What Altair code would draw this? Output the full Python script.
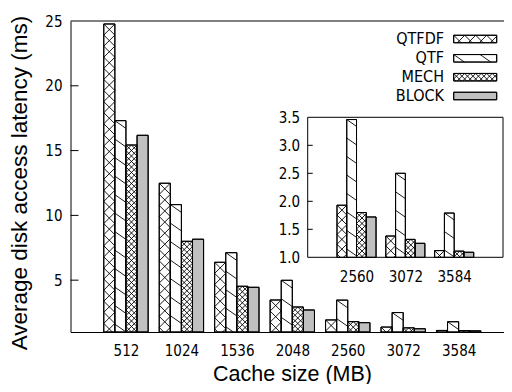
import json
import numpy as np
import pandas as pd
import altair as alt

# ---------------- data ----------------
cache_sizes = [512, 1024, 1536, 2048, 2560, 3072, 3584]
series = ["QTFDF", "QTF", "MECH", "BLOCK"]
qtfdf = [24.77, 12.48, 6.38, 3.47, 1.93, 1.38, 1.12]
qtf = [17.31, 10.83, 7.12, 4.99, 3.46, 2.50, 1.79]
mech = [15.43, 8.00, 4.53, 2.93, 1.80, 1.32, 1.11]
block = [16.18, 8.16, 4.45, 2.70, 1.72, 1.25, 1.09]
inset_sizes = [2560, 3072, 3584]
main_y_ticks = [5, 10, 15, 20, 25]
inset_y_ticks = [1.0, 1.5, 2.0, 2.5, 3.0, 3.5]

values = {"QTFDF": qtfdf, "QTF": qtf, "MECH": mech, "BLOCK": block}

# ---------------- layout / style ----------------
SLOT = 55.45                 # px per category slot in the main plot
W, H = 433.5, 311
XMAX = W / SLOT
YMIN, YMAX = 1, 25
sx = W / XMAX
sy = H / (YMAX - YMIN)
BAR = 0.2

IN_X0, IN_X1 = 237.2, 432.5
IN_YT, IN_YB = 96.3, 236.3
IN_XMAX = 4
IN_YMIN, IN_YMAX = 1.0, 3.5
isx = (IN_X1 - IN_X0) / IN_XMAX
isy = (IN_YB - IN_YT) / (IN_YMAX - IN_YMIN)

LABEL_FONT = "DejaVu Sans Condensed, DejaVu Sans"
TITLE_FONT = "Liberation Sans"
fills = ["white", "white", "white", "#c0c0c0"]


def families(s, w):
    if s == "QTFDF":
        return [(-1.0, w), (1.0, w)]
    if s == "QTF":
        return [(-0.7, 18.5)]
    if s == "MECH":
        return [(-1.0, 5.5), (1.0, 5.5)]
    return []


def seg_family(x0, x1, y0, y1, m, P):
    segs = []
    w = x1 - x0
    h = y1 - y0
    kmin = int(np.floor(-abs(m) * w / P)) - 1
    kmax = int(np.ceil((h + abs(m) * w) / P)) + 1
    for k in range(kmin, kmax + 1):
        a = y1 - k * P
        xa = x0 + (y0 - a) / m
        xb = x0 + (y1 - a) / m
        lo = max(x0, min(xa, xb))
        hi = min(x1, max(xa, xb))
        if hi - lo > 0.4:
            segs.append((lo, a + m * (lo - x0), hi, a + m * (hi - x0)))
    return segs


def hatch_rect(s, x0, x1, y0, y1, period_w=None):
    out = []
    w = period_w if period_w else (x1 - x0)
    for m, P in families(s, w):
        out += seg_family(x0, x1, y0, y1, m, P)
    return out


# ---------------- main bars ----------------
rows, hrows = [], []
for i, size in enumerate(cache_sizes):
    for k, s in enumerate(series):
        v = values[s][i]
        x0 = (i + 1) + (k - 2) * BAR
        x1 = x0 + BAR
        rows.append({"size": size, "series": s, "x0": x0, "x1": x1, "v": v, "base": YMIN})
        for (a, b, c, d) in hatch_rect(s, x0 * sx, x1 * sx, 0, (v - YMIN) * sy):
            hrows.append({"x": a / sx, "x2": c / sx, "y": YMIN + b / sy, "y2": YMIN + d / sy})
df_main = pd.DataFrame(rows)
df_hmain = pd.DataFrame(hrows)

# legend (in main coordinates)
LEG_TEXT_X = 373.5
SW_X0, SW_X1 = 383.2, 426.2
ROW_Y = [18.0, 37.3, 56.2, 75.0]
SW_H = 7.5
lrows, lhrows = [], []
for k, s in enumerate(series):
    cy = H - ROW_Y[k]
    y0p, y1p = cy - SW_H / 2, cy + SW_H / 2
    lrows.append({"series": s, "tx": LEG_TEXT_X / sx, "ty": YMIN + cy / sy,
                  "x0": SW_X0 / sx, "x1": SW_X1 / sx,
                  "y0": YMIN + y0p / sy, "y1": YMIN + y1p / sy})
    for (a, b, c, d) in hatch_rect(s, SW_X0, SW_X1, y0p, y1p, period_w=11):
        lhrows.append({"x": a / sx, "x2": c / sx, "y": YMIN + b / sy, "y2": YMIN + d / sy})
df_leg = pd.DataFrame(lrows)
df_lh = pd.DataFrame(lhrows)

# ---------------- inset ----------------
irows, ihrows = [], []
for j, size in enumerate(inset_sizes):
    i = cache_sizes.index(size)
    for k, s in enumerate(series):
        v = values[s][i]
        x0 = (j + 1) + (k - 2) * BAR
        x1 = x0 + BAR
        irows.append({"size": size, "series": s, "x0": x0, "x1": x1, "v": v, "base": IN_YMIN})
        for (a, b, c, d) in hatch_rect(s, x0 * isx, x1 * isx, 0, (v - IN_YMIN) * isy):
            ihrows.append({"x": a / isx, "x2": c / isx, "y": IN_YMIN + b / isy, "y2": IN_YMIN + d / isy})
df_in = pd.DataFrame(irows)
df_hin = pd.DataFrame(ihrows)
df_frame = pd.DataFrame([{"x0": 0, "x1": IN_XMAX, "y0": IN_YMIN, "y1": IN_YMAX}])

# ---------------- scales / axes ----------------
def xs_main():
    return alt.Scale(domain=[0, XMAX], range=[0, W], nice=False, zero=False)
def ys_main():
    return alt.Scale(domain=[YMIN, YMAX], range=[H, 0], nice=False, zero=False)
def xs_in():
    return alt.Scale(domain=[0, IN_XMAX], range=[IN_X0, IN_X1], nice=False, zero=False)
def ys_in():
    return alt.Scale(domain=[IN_YMIN, IN_YMAX], range=[IN_YB, IN_YT], nice=False, zero=False)

col = alt.Color("series:N", scale=alt.Scale(domain=series, range=fills), legend=None)

main_labels = json.dumps([str(c) for c in cache_sizes])
inset_labels = json.dumps([str(c) for c in inset_sizes])

main_x_axis = alt.Axis(values=list(range(1, len(cache_sizes) + 1)),
                       labelExpr=f"{main_labels}[round(datum.value)-1]",
                       title="Cache size (MB)", orient="bottom", ticks=False,
                       labelPadding=18.5, labelBaseline="middle", grid=False,
                       titleFontSize=21.5,
                       titleX=221.5, titleY=48, titleBaseline="alphabetic", titleAlign="center")
main_y_axis = alt.Axis(values=main_y_ticks, format="d", title="Average disk access latency (ms)",
                       orient="left", ticks=False, labelPadding=8.5,
                       labelBaseline="middle", grid=False, titleFontSize=22.5,
                       titleX=-44.5, titleY=161.5, titleAngle=270, titleBaseline="alphabetic",
                       titleAlign="center")
inset_x_axis = alt.Axis(values=[1, 2, 3], labelExpr=f"{inset_labels}[round(datum.value)-1]",
                        title=None, orient="bottom", offset=-(H - IN_YB), ticks=False,
                        labelPadding=19, labelBaseline="middle", domain=False, grid=False, zindex=1)
inset_y_axis = alt.Axis(values=inset_y_ticks, format=".1f", title=None, orient="left",
                        offset=-IN_X0, ticks=False, labelPadding=8,
                        labelBaseline="middle", domain=False, grid=False, zindex=1)

one = pd.DataFrame([{"a": 0}])

# ---------------- main layers ----------------
m_bars = alt.Chart(df_main).mark_rect(stroke="black", strokeWidth=1).encode(
    x=alt.X("x0:Q", scale=xs_main(), axis=main_x_axis), x2="x1",
    y=alt.Y("v:Q", scale=ys_main(), axis=main_y_axis), y2="base", color=col)
m_hatch = alt.Chart(df_hmain).mark_rule(color="black", strokeWidth=0.9).encode(
    x=alt.X("x:Q", scale=xs_main(), axis=None), x2="x2",
    y=alt.Y("y:Q", scale=ys_main(), axis=None), y2="y2")
m_out = alt.Chart(df_main).mark_rect(fillOpacity=0, stroke="black", strokeWidth=1).encode(
    x=alt.X("x0:Q", scale=xs_main(), axis=None), x2="x1",
    y=alt.Y("v:Q", scale=ys_main(), axis=None), y2="base")
m_ticks = alt.Chart(pd.DataFrame({"t": main_y_ticks[:-1]})).mark_rule(color="black").encode(
    y=alt.Y("t:Q", scale=ys_main(), axis=None), x=alt.value(0), x2=alt.value(8))
m_top = alt.Chart(one).mark_rule(color="black", strokeWidth=1).encode(
    y=alt.value(0), x=alt.value(0), x2=alt.value(W))
l_text = alt.Chart(df_leg).mark_text(align="right", baseline="middle", font=LABEL_FONT,
                                      fontSize=16, color="black").encode(
    x=alt.X("tx:Q", scale=xs_main(), axis=None), y=alt.Y("ty:Q", scale=ys_main(), axis=None),
    text="series:N")
l_sw = alt.Chart(df_leg).mark_rect(stroke="black", strokeWidth=1).encode(
    x=alt.X("x0:Q", scale=xs_main(), axis=None), x2="x1",
    y=alt.Y("y1:Q", scale=ys_main(), axis=None), y2="y0", color=col)
l_h = alt.Chart(df_lh).mark_rule(color="black", strokeWidth=0.9).encode(
    x=alt.X("x:Q", scale=xs_main(), axis=None), x2="x2",
    y=alt.Y("y:Q", scale=ys_main(), axis=None), y2="y2")
l_out = alt.Chart(df_leg).mark_rect(fillOpacity=0, stroke="black", strokeWidth=1).encode(
    x=alt.X("x0:Q", scale=xs_main(), axis=None), x2="x1",
    y=alt.Y("y1:Q", scale=ys_main(), axis=None), y2="y0")

# ---------------- inset layers ----------------
i_frame = alt.Chart(df_frame).mark_rect(fill="white", stroke="black", strokeWidth=1).encode(
    x=alt.X("x0:Q", scale=xs_in(), axis=inset_x_axis), x2="x1",
    y=alt.Y("y1:Q", scale=ys_in(), axis=inset_y_axis), y2="y0")
i_bars = alt.Chart(df_in).mark_rect(stroke="black", strokeWidth=1).encode(
    x=alt.X("x0:Q", scale=xs_in(), axis=None), x2="x1",
    y=alt.Y("v:Q", scale=ys_in(), axis=None), y2="base", color=col)
i_hatch = alt.Chart(df_hin).mark_rule(color="black", strokeWidth=0.9).encode(
    x=alt.X("x:Q", scale=xs_in(), axis=None), x2="x2",
    y=alt.Y("y:Q", scale=ys_in(), axis=None), y2="y2")
i_out = alt.Chart(df_in).mark_rect(fillOpacity=0, stroke="black", strokeWidth=1).encode(
    x=alt.X("x0:Q", scale=xs_in(), axis=None), x2="x1",
    y=alt.Y("v:Q", scale=ys_in(), axis=None), y2="base")
i_ticks = alt.Chart(pd.DataFrame({"t": inset_y_ticks[1:-1]})).mark_rule(color="black").encode(
    y=alt.Y("t:Q", scale=ys_in(), axis=None), x=alt.value(IN_X0), x2=alt.value(IN_X0 + 5))

chart = alt.layer(
    m_bars, m_hatch, m_out, m_ticks, m_top, l_sw, l_h, l_out, l_text,
    i_frame, i_bars, i_hatch, i_out, i_ticks,
).resolve_scale(
    x="independent", y="independent", color="shared"
).resolve_axis(
    x="independent", y="independent"
).properties(
    width=W, height=H, autosize="none",
    padding={"left": 62.5, "top": 13, "right": 0, "bottom": 52},
).configure_view(stroke=None).configure_axis(
    labelFont=LABEL_FONT, labelFontSize=15, labelColor="black",
    titleFont=TITLE_FONT, titleFontWeight="normal", titleColor="black",
    domainColor="black", domainWidth=1,
)

chart.save("out.html", embed_options={"renderer": "svg", "actions": False})
